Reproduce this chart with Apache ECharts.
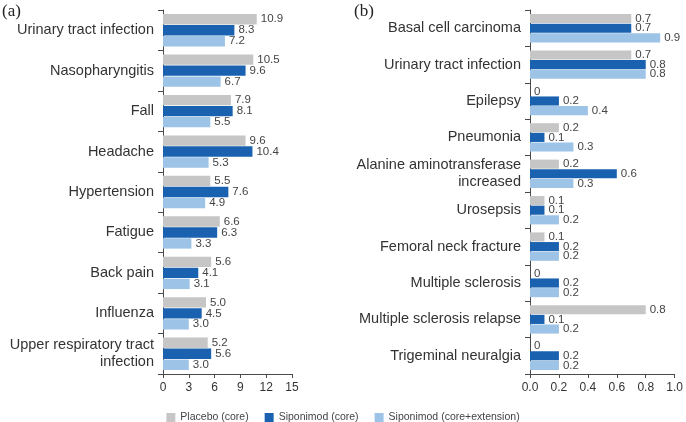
<!DOCTYPE html>
<html><head><meta charset="utf-8">
<script src="https://cdn.jsdelivr.net/npm/echarts@6/dist/echarts.min.js"></script>
<style>html,body{margin:0;padding:0;background:#fff}#c{width:686px;height:422px}</style>
</head><body><div id="c"></div>
<script>
const catsA = ["Urinary tract infection","Nasopharyngitis","Fall","Headache","Hypertension","Fatigue","Back pain","Influenza","Upper respiratory tract\ninfection"];
const placeboA = [10.9,10.5,7.9,9.6,5.5,6.6,5.6,5.0,5.2];
const sipCoreA = [8.3,9.6,8.1,10.4,7.6,6.3,4.1,4.5,5.6];
const sipExtA = [7.2,6.7,5.5,5.3,4.9,3.3,3.1,3.0,3.0];
const catsB = ["Basal cell carcinoma","Urinary tract infection","Epilepsy","Pneumonia","Alanine aminotransferase\nincreased","Urosepsis","Femoral neck fracture","Multiple sclerosis","Multiple sclerosis relapse","Trigeminal neuralgia"];
const placeboB = [0.7,0.7,0,0.2,0.2,0.1,0.1,0,0.8,0];
const sipCoreB = [0.7,0.8,0.2,0.1,0.6,0.1,0.2,0.2,0.1,0.2];
const sipExtB = [0.9,0.8,0.4,0.3,0.3,0.2,0.2,0.2,0.2,0.2];
const ticksA = [0,3,6,9,12,15];
const ticksB = ["0.0","0.2","0.4","0.6","0.8","1.0"];
const names = ["Placebo (core)","Siponimod (core)","Siponimod (core+extension)"];
const colors = ["#c6c6c6","#1a62b0","#9dc3e6"];

const chart = echarts.init(document.getElementById('c'), null, {renderer:'canvas'});
const axisCol = '#4a4a4a';
const txt = '#333';
function yAxis(idx, cats){
  return {type:'category', gridIndex:idx, data:cats, inverse:true,
    axisLine:{lineStyle:{color:axisCol,width:1}},
    axisTick:{show:true, length:5, lineStyle:{color:axisCol}},
    axisLabel:{color:txt, fontSize:14.5, fontFamily:'Liberation Sans, Arial', margin:9, lineHeight:17}};
}
function xAxis(idx, max, interval, fmt){
  return {type:'value', gridIndex:idx, min:0, max:max, interval:interval,
    splitLine:{show:false},
    axisLine:{show:true, lineStyle:{color:axisCol,width:1}},
    axisTick:{show:true, length:4, lineStyle:{color:axisCol}},
    axisLabel:{color:txt, fontSize:12, fontFamily:'Liberation Sans, Arial', margin:8, formatter:fmt}};
}
function series(data, i, gi, fmt, gap, cgap){
  return {type:'bar', name:names[i], xAxisIndex:gi, yAxisIndex:gi, data:data,
    itemStyle:{color:colors[i]}, barGap:gap, barCategoryGap:cgap,
    label:{show:true, position:'right', distance:4, color:'#444', fontSize:11.5, fontFamily:'Liberation Sans, Arial', formatter:fmt}};
}
const fmtA = p => p.value.toFixed(1);
const fmtB = p => p.value === 0 ? '0' : p.value.toFixed(1);
chart.setOption({
  animation:false,
  grid:[{left:163, right:394, top:10, bottom:48},{left:530, right:9, top:10, bottom:48}],
  xAxis:[xAxis(0,15,3, v=>String(v)), xAxis(1,1,0.2, v=>v.toFixed(1))],
  yAxis:[yAxis(0,catsA), yAxis(1,catsB)],
  legend:{top:407, left:'center', itemWidth:9, itemHeight:9, itemGap:16, icon:'rect',
    textStyle:{color:'#444', fontSize:10.5, fontFamily:'Liberation Sans, Arial'},
    data:names},
  graphic:[
    {type:'text', left:2, top:3, style:{text:'(a)', font:'17px "Liberation Serif", "DejaVu Serif", serif', fill:'#222'}},
    {type:'text', left:354, top:3, style:{text:'(b)', font:'17px "Liberation Serif", "DejaVu Serif", serif', fill:'#222'}}
  ],
  series:[
    series(placeboA,0,0,fmtA,'6%','20%'), series(sipCoreA,1,0,fmtA,'6%','20%'), series(sipExtA,2,0,fmtA,'6%','20%'),
    series(placeboB,0,1,fmtB,'6%','22%'), series(sipCoreB,1,1,fmtB,'6%','22%'), series(sipExtB,2,1,fmtB,'6%','22%')
  ]
});
</script></body></html>
